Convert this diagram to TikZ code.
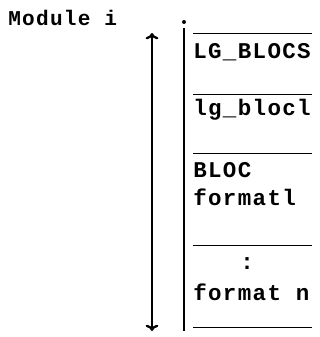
\documentclass[tikz,border=0pt]{standalone}
\usepackage{fontspec}
\setmonofont{Liberation Mono}[LetterSpace=6]
\usetikzlibrary{arrows.meta}

\tikzset{
  label/.style={anchor=west, inner sep=0pt, font=\ttfamily\bfseries\fontsize{16}{19}\selectfont},
  sep/.style={line width=0.7pt}
}

\begin{document}
\begin{tikzpicture}[x=0.025cm, y=-0.025cm]
	\useasboundingbox (0, 0) rectangle (320, 337);
	\node [label, font=\ttfamily\bfseries\fontsize{15}{18}\selectfont] (module) at (8, 18) {Module i};
	% size arrow
	\coordinate (atop) at (152, 33);
	\coordinate (abot) at (152, 331);
	\draw [{To[length=4.5pt,width=9pt]}-{To[length=4.5pt,width=9pt]}, line width=1.6pt] (atop) -- (abot);
	% left edge of the module
	\coordinate (etop) at (184, 28);
	\coordinate (ebot) at (184, 331);
	\fill (184, 22) circle (2);
	\draw [line width=2pt] (etop) -- (ebot);
	% fields
	\foreach \y/\name in {33/s1, 94/s2, 153/s3, 245/s4, 327/s5}
		\draw [sep] (193, \y) coordinate (\name a) -- (312, \y) coordinate (\name b);
	\node [label] (lgblocs) at (193, 52) {LG\_BLOCS};
	\node [label] (lgbloc) at (193, 110) {lg\_blocl};
	\node [label] (bloc) at (193, 170) {BLOC};
	\node [label] (fmt1) at (193, 197) {formatl};
	\node [label] (dots) at (240, 264) {:};
	\node [label] (fmtn) at (193, 292) {format n};
\end{tikzpicture}
\end{document}
